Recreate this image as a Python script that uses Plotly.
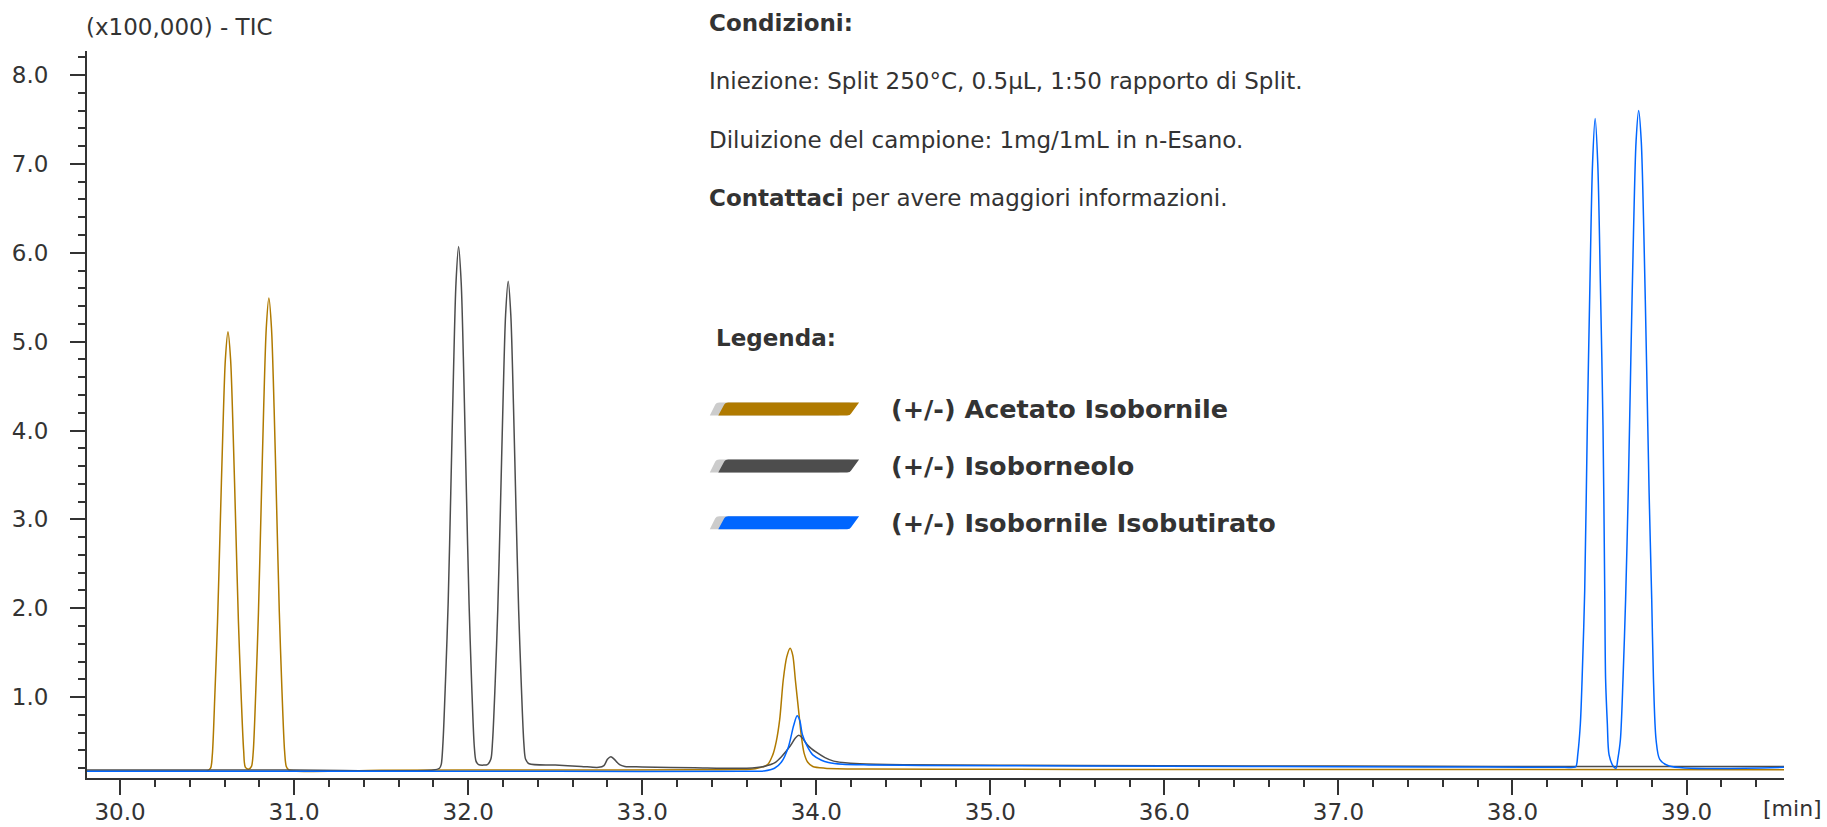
import plotly.graph_objects as go

# ---------------- data ----------------
# retention time [min] / intensity (x100,000) vertices of each TIC trace
acetato_t = [29.81, 30.40, 30.50, 30.52, 30.53, 30.545, 30.56, 30.575, 30.59, 30.605, 30.62, 30.635,
             30.65, 30.665, 30.68, 30.695, 30.71, 30.72, 30.74, 30.755, 30.765, 30.78, 30.795,
             30.81, 30.825, 30.84, 30.855, 30.87, 30.885, 30.90, 30.915, 30.93, 30.945, 30.955,
             30.97, 31.5, 32.5, 33.3, 33.55, 33.65, 33.72, 33.75, 33.77, 33.79, 33.81, 33.83, 33.85,
             33.865, 33.88, 33.90, 33.915, 33.93, 33.95, 33.98, 34.05, 34.3, 35.0, 36.0, 37.0,
             38.0, 39.56]
acetato_y = [0.17, 0.17, 0.17, 0.20, 0.35, 1.05, 1.85, 2.90, 3.95, 4.80, 5.11, 4.80,
             3.95, 2.90, 1.85, 1.05, 0.40, 0.21, 0.19, 0.22, 0.38, 1.08, 1.95,
             3.10, 4.25, 5.15, 5.49, 5.15, 4.25, 3.10, 1.95, 1.08, 0.40, 0.22,
             0.18, 0.178, 0.18, 0.183, 0.185, 0.195, 0.24, 0.35, 0.50, 0.75, 1.19, 1.45, 1.55,
             1.47, 1.19, 0.82, 0.55, 0.37, 0.27, 0.22, 0.20, 0.19, 0.188, 0.186, 0.185,
             0.185, 0.184]

isoborneolo_t = [29.81, 31.0, 31.80, 31.835, 31.845, 31.855, 31.87, 31.885, 31.90, 31.915, 31.93,
                 31.945, 31.96, 31.975, 31.99, 32.005, 32.02, 32.035, 32.045, 32.06, 32.09, 32.11,
                 32.13, 32.14, 32.155, 32.17, 32.185, 32.20, 32.215, 32.23, 32.245, 32.26, 32.275,
                 32.29, 32.305, 32.32, 32.33, 32.35, 32.5, 32.65, 32.75, 32.78, 32.80, 32.82, 32.84,
                 32.87, 32.9, 33.0, 33.3, 33.6, 33.7, 33.76, 33.80, 33.85, 33.88, 33.90, 33.92,
                 33.95, 34.0, 34.05, 34.1, 34.15, 34.25, 34.5, 35.5, 36.5, 37.5, 38.3, 39.56]
isoborneolo_y = [0.18, 0.18, 0.18, 0.20, 0.24, 0.48, 1.20, 2.06, 3.30, 4.60, 5.66,
                 6.07, 5.66, 4.60, 3.30, 2.06, 1.15, 0.45, 0.28, 0.24, 0.235, 0.24,
                 0.30, 0.50, 1.15, 1.98, 3.10, 4.30, 5.30, 5.68, 5.30, 4.30, 3.10,
                 1.98, 1.15, 0.48, 0.30, 0.25, 0.235, 0.22, 0.21, 0.23, 0.30, 0.33, 0.30,
                 0.24, 0.22, 0.215, 0.205, 0.20, 0.22, 0.26, 0.33, 0.45, 0.54, 0.57, 0.54,
                 0.46, 0.38, 0.32, 0.28, 0.265, 0.25, 0.24, 0.232, 0.226, 0.222, 0.22, 0.218]

isobutirato_t = [29.81, 31.0, 32.5, 33.6, 33.7, 33.76, 33.80, 33.84, 33.87, 33.89, 33.905, 33.92,
                 33.95, 33.98, 34.03, 34.07, 34.15, 34.3, 34.6, 35.5, 36.5, 37.5, 38.30, 38.35,
                 38.365, 38.375, 38.39, 38.40, 38.415, 38.43, 38.445, 38.46, 38.475, 38.49, 38.505,
                 38.52, 38.53, 38.535, 38.545, 38.555, 38.58, 38.595, 38.605, 38.62, 38.635, 38.65,
                 38.665, 38.68, 38.695, 38.71, 38.725, 38.74, 38.755, 38.77, 38.785, 38.80, 38.81,
                 38.825, 38.846, 38.9, 39.56]
isobutirato_y = [0.165, 0.165, 0.165, 0.165, 0.17, 0.20, 0.27, 0.44, 0.68, 0.79, 0.74, 0.58,
                 0.44, 0.35, 0.29, 0.265, 0.245, 0.237, 0.232, 0.226, 0.22, 0.215, 0.21, 0.21,
                 0.22, 0.35, 0.70, 1.20, 2.20, 4.06, 5.65, 7.00, 7.51, 7.00, 5.65, 4.06,
                 2.20, 1.20, 0.70, 0.35, 0.22, 0.20, 0.30, 0.52, 1.20, 2.10, 3.30,
                 4.80, 6.20, 7.25, 7.60, 7.25, 6.20, 4.80, 3.30, 2.10, 1.20,
                 0.52, 0.30, 0.225, 0.21, 0.21]

series_names = ["(+/-) Acetato Isobornile", "(+/-) Isoborneolo", "(+/-) Isobornile Isobutirato"]
series_colors = ["#B07A00", "#4D4D4D", "#0066FF"]

x_range = [29.81, 39.56]
y_range = [0.09, 8.27]

info_lines = [
    "<b>Condizioni:</b>",
    "Iniezione: Split 250°C, 0.5µL, 1:50 rapporto di Split.",
    "Diluizione del campione: 1mg/1mL in n-Esano.",
    "<b>Contattaci</b> per avere maggiori informazioni.",
]

# ---------------- figure ----------------
# the captured area is a little taller than 827 px, so lay out on a slightly taller canvas
S = 837 / 827
W, H = 1827, 837
ML = 85                          # plot area (reference px): left 85, top 50, right 1784, bottom 779
MT = round(50 * S)
MR = W - 1784
MB = H - round(779 * S)
PW, PH = W - ML - MR, H - MT - MB


def px(xp):
    return (xp - ML) / PW


def py(yp):
    return 1 - (yp * S - MT) / PH


fig = go.Figure()
traces = [(acetato_t, acetato_y), (isoborneolo_t, isoborneolo_y), (isobutirato_t, isobutirato_y)]
for (t, y), name, col in zip(traces, series_names, series_colors):
    fig.add_trace(go.Scatter(x=t, y=y, mode="lines", name=name,
                             line=dict(color=col, width=1.5, shape="spline", smoothing=0.8),
                             showlegend=False, hoverinfo="skip"))

TXT = "#333333"
FONT = "DejaVu Sans"

annotations = []
for i, line in enumerate(info_lines):
    annotations.append(dict(text=line, x=px(706), y=py(22 + i * 58.7), xref="paper", yref="paper",
                            xanchor="left", yanchor="middle", showarrow=False,
                            font=dict(family=FONT, size=23, color=TXT)))
annotations.append(dict(text="<b>Legenda:</b>", x=px(713), y=py(338), xref="paper", yref="paper",
                        xanchor="left", yanchor="middle", showarrow=False,
                        font=dict(family=FONT, size=23, color=TXT)))
annotations.append(dict(text="(x100,000) - TIC", x=px(82), y=py(26), xref="paper", yref="paper",
                        xanchor="left", yanchor="middle", showarrow=False,
                        font=dict(family=FONT, size=23, color=TXT)))
annotations.append(dict(text="[min]", x=px(1761), y=py(809), xref="paper", yref="paper",
                        xanchor="left", yanchor="middle", showarrow=False,
                        font=dict(family=FONT, size=22, color=TXT)))

shapes = []
row_y = [409, 466, 523]
for name, col, yc in zip(series_names, series_colors, row_y):
    top, bot = yc - 6.5, yc + 6.5

    def para(x_tl, x_tr, x_bl, x_br, c):
        path = (f"M {px(x_bl + 2)} {py(bot)} L {px(x_br - 2)} {py(bot)} "
                f"Q {px(x_br + 1)} {py(bot)} {px(x_br + 2)} {py(bot - 2)} "
                f"L {px(x_tr)} {py(top)} L {px(x_tl + 2)} {py(top)} "
                f"Q {px(x_tl - 1)} {py(top)} {px(x_tl - 2)} {py(top + 2)} Z")
        return dict(type="path", path=path, xref="paper", yref="paper",
                    fillcolor=c, line=dict(width=0), layer="above")

    shapes.append(para(716, 849, 706.5, 839, "#CCCCCC"))
    shapes.append(para(725, 858, 715, 848, col))
    annotations.append(dict(text=f"<b>{name}</b>", x=px(888), y=py(yc), xref="paper", yref="paper",
                            xanchor="left", yanchor="middle", showarrow=False,
                            font=dict(family=FONT, size=25.5, color=TXT)))

axis_common = dict(showgrid=False, zeroline=False, showline=True, linecolor="#333333", linewidth=2,
                   ticks="outside", ticklen=15, tickwidth=2, tickcolor="#333333",
                   tickfont=dict(family=FONT, size=23, color=TXT), tickformat=".1f")

fig.update_layout(
    width=W, height=H, autosize=False,
    margin=dict(l=ML, r=MR, t=MT, b=MB, pad=0),
    paper_bgcolor="white", plot_bgcolor="white",
    xaxis=dict(range=x_range, tick0=30, dtick=1, ticklabelstandoff=-3,
               minor=dict(dtick=0.2, tick0=30, ticks="outside", ticklen=7, tickwidth=1.5,
                          tickcolor="#333333"), **axis_common),
    yaxis=dict(range=y_range, tick0=0, dtick=1, ticklabelstandoff=17,
               minor=dict(dtick=0.2, tick0=0, ticks="outside", ticklen=7, tickwidth=1.5,
                          tickcolor="#333333"), **axis_common),
    annotations=annotations, shapes=shapes,
)

fig.write_html(
    "out.html",
    config={"displayModeBar": False},
    post_script="document.body.style.margin='0';document.body.style.overflow='hidden';",
)
